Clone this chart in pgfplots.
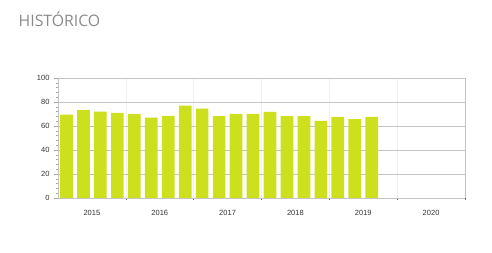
\documentclass[border=0pt]{standalone}
\usepackage{fontspec}
\setmainfont{Liberation Sans}
\newfontfamily\titlefont{Open Sans}
\usepackage{pgfplots}
\pgfplotsset{compat=1.18}
\definecolor{barc}{HTML}{CDE01E}
\definecolor{gridc}{HTML}{C4C4C4}
\definecolor{vgridc}{HTML}{F0F0F0}
\definecolor{titlec}{HTML}{8A8A8A}
\begin{document}
\begin{tikzpicture}[x=1pt,y=1pt]
\useasboundingbox (0,0) rectangle (492,253);
\node[anchor=base west,inner sep=0pt,text=titlec,font=\titlefont\fontsize{15.8}{18}\selectfont] at (18.5,226.5) {HISTÓRICO};
\begin{axis}[
  at={(58pt,55pt)}, anchor=south west,
  scale only axis, width=407pt, height=120pt,
  xmin=0, xmax=24, ymin=0, ymax=100,
  axis line style={draw=gridc},
  axis x line*=bottom, axis y line*=left,
  ytick={0,20,...,100},
  minor y tick num=4,
  ymajorgrids, major grid style={draw=gridc, line width=0.8pt},
  y tick style={draw=gray!70, line width=0.5pt},
  major tick length=4pt, minor tick length=2pt,
  tick align=outside,
  xtick={2,6,10,14,18,22},
  xticklabels={2015,2016,2017,2018,2019,2020},
  x tick style={draw=none},
  minor xtick={4,8,12,16,20,24},
  xminorgrids, minor grid style={draw=vgridc, line width=0.6pt},
  minor x tick style={draw=gray!80!black, line width=0.6pt},
  tick label style={font=\fontsize{7.5}{8.5}\selectfont, text=black!80},
  yticklabel style={xshift=-1pt},
  xticklabel style={yshift=-5pt},
  /pgf/number format/assume math mode=true,
  clip=false,
]
\draw[gridc, line width=0.6pt] (axis cs:24,0) -- (axis cs:24,100);
\addplot[ybar, bar width=12.7pt, fill=barc, draw=none] coordinates {
(0.5,69.5) (1.5,73.5) (2.5,72) (3.5,71) (4.5,70) (5.5,67) (6.5,68.5) (7.5,77)
(8.5,74.5) (9.5,68.3) (10.5,70) (11.5,70) (12.5,71.7) (13.5,68.3) (14.5,68.3)
(15.5,64.2) (16.5,67.5) (17.5,65.8) (18.5,67.5)
};
\end{axis}
\end{tikzpicture}
\end{document}
